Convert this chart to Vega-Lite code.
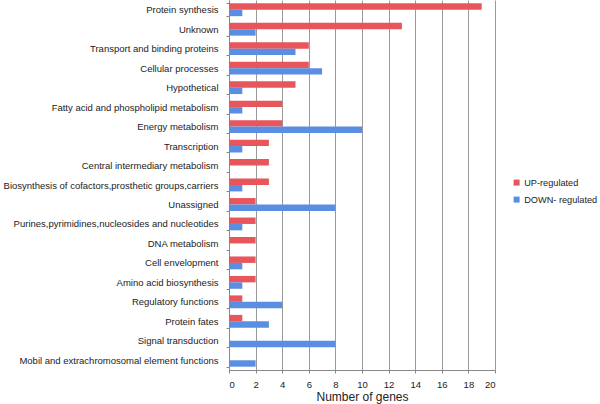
{
  "$schema": "https://vega.github.io/schema/vega-lite/v6.json",
  "width": 266,
  "height": 370,
  "autosize": {"type": "none"},
  "padding": {"left": 229, "top": 0, "right": 105, "bottom": 34},
  "background": "white",
  "data": {
    "values": [
      {"category": "Protein synthesis", "group": "UP-regulated", "genes": 19},
      {"category": "Protein synthesis", "group": "DOWN- regulated", "genes": 1},
      {"category": "Unknown", "group": "UP-regulated", "genes": 13},
      {"category": "Unknown", "group": "DOWN- regulated", "genes": 2},
      {"category": "Transport and binding proteins", "group": "UP-regulated", "genes": 6},
      {"category": "Transport and binding proteins", "group": "DOWN- regulated", "genes": 5},
      {"category": "Cellular processes", "group": "UP-regulated", "genes": 6},
      {"category": "Cellular processes", "group": "DOWN- regulated", "genes": 7},
      {"category": "Hypothetical", "group": "UP-regulated", "genes": 5},
      {"category": "Hypothetical", "group": "DOWN- regulated", "genes": 1},
      {"category": "Fatty acid and phospholipid metabolism", "group": "UP-regulated", "genes": 4},
      {"category": "Fatty acid and phospholipid metabolism", "group": "DOWN- regulated", "genes": 1},
      {"category": "Energy metabolism", "group": "UP-regulated", "genes": 4},
      {"category": "Energy metabolism", "group": "DOWN- regulated", "genes": 10},
      {"category": "Transcription", "group": "UP-regulated", "genes": 3},
      {"category": "Transcription", "group": "DOWN- regulated", "genes": 1},
      {"category": "Central intermediary metabolism", "group": "UP-regulated", "genes": 3},
      {"category": "Central intermediary metabolism", "group": "DOWN- regulated", "genes": 0},
      {"category": "Biosynthesis of cofactors,prosthetic groups,carriers", "group": "UP-regulated", "genes": 3},
      {"category": "Biosynthesis of cofactors,prosthetic groups,carriers", "group": "DOWN- regulated", "genes": 1},
      {"category": "Unassigned", "group": "UP-regulated", "genes": 2},
      {"category": "Unassigned", "group": "DOWN- regulated", "genes": 8},
      {"category": "Purines,pyrimidines,nucleosides and nucleotides", "group": "UP-regulated", "genes": 2},
      {"category": "Purines,pyrimidines,nucleosides and nucleotides", "group": "DOWN- regulated", "genes": 1},
      {"category": "DNA metabolism", "group": "UP-regulated", "genes": 2},
      {"category": "DNA metabolism", "group": "DOWN- regulated", "genes": 0},
      {"category": "Cell envelopment", "group": "UP-regulated", "genes": 2},
      {"category": "Cell envelopment", "group": "DOWN- regulated", "genes": 1},
      {"category": "Amino acid biosynthesis", "group": "UP-regulated", "genes": 2},
      {"category": "Amino acid biosynthesis", "group": "DOWN- regulated", "genes": 1},
      {"category": "Regulatory functions", "group": "UP-regulated", "genes": 1},
      {"category": "Regulatory functions", "group": "DOWN- regulated", "genes": 4},
      {"category": "Protein fates", "group": "UP-regulated", "genes": 1},
      {"category": "Protein fates", "group": "DOWN- regulated", "genes": 3},
      {"category": "Signal transduction", "group": "UP-regulated", "genes": 0},
      {"category": "Signal transduction", "group": "DOWN- regulated", "genes": 8},
      {"category": "Mobil and extrachromosomal element functions", "group": "UP-regulated", "genes": 0},
      {"category": "Mobil and extrachromosomal element functions", "group": "DOWN- regulated", "genes": 2}
    ]
  },
  "mark": {"type": "bar", "cornerRadius": 0},
  "encoding": {
    "y": {
      "field": "category",
      "type": "nominal",
      "sort": null,
      "scale": {"paddingInner": 0.34, "paddingOuter": 0.17},
      "axis": {
        "title": null,
        "labelFont": "Liberation Sans",
        "labelFontSize": 9.5,
        "labelColor": "#222222",
        "labelPadding": 8,
        "labelLimit": 0,
        "tickBand": "extent",
        "tickSize": 3,
        "tickColor": "#888888",
        "domainColor": "#888888",
        "grid": false
      }
    },
    "yOffset": {"field": "group", "type": "nominal", "sort": ["UP-regulated", "DOWN- regulated"]},
    "x": {
      "field": "genes",
      "type": "quantitative",
      "scale": {"domain": [0, 20], "nice": false},
      "axis": {
        "title": "Number of genes",
        "titleFont": "Liberation Sans",
        "titleFontSize": 12,
        "titleFontWeight": "normal",
        "titleColor": "#222222",
        "titlePadding": 3,
        "values": [0, 2, 4, 6, 8, 10, 12, 14, 16, 18, 20],
        "labelFont": "Liberation Sans",
        "labelFontSize": 9.5,
        "labelColor": "#222222",
        "labelPadding": 6,
        "labelDx": 3,
        "tickSize": 3,
        "tickColor": "#888888",
        "domainColor": "#888888",
        "grid": true,
        "gridColor": "#9a9a9a",
        "gridWidth": 1
      }
    },
    "color": {
      "field": "group",
      "type": "nominal",
      "sort": ["UP-regulated", "DOWN- regulated"],
      "scale": {"domain": ["UP-regulated", "DOWN- regulated"], "range": ["#e8555b", "#5a8ee2"]},
      "legend": {
        "title": null,
        "orient": "none",
        "legendX": 283,
        "legendY": 178,
        "symbolType": "square",
        "symbolSize": 36,
        "symbolStrokeWidth": 0,
        "labelFont": "Liberation Sans",
        "labelFontSize": 9.2,
        "labelColor": "#222222",
        "labelLimit": 0,
        "rowPadding": 7,
        "labelOffset": 3
      }
    }
  },
  "config": {"view": {"stroke": null}}
}
